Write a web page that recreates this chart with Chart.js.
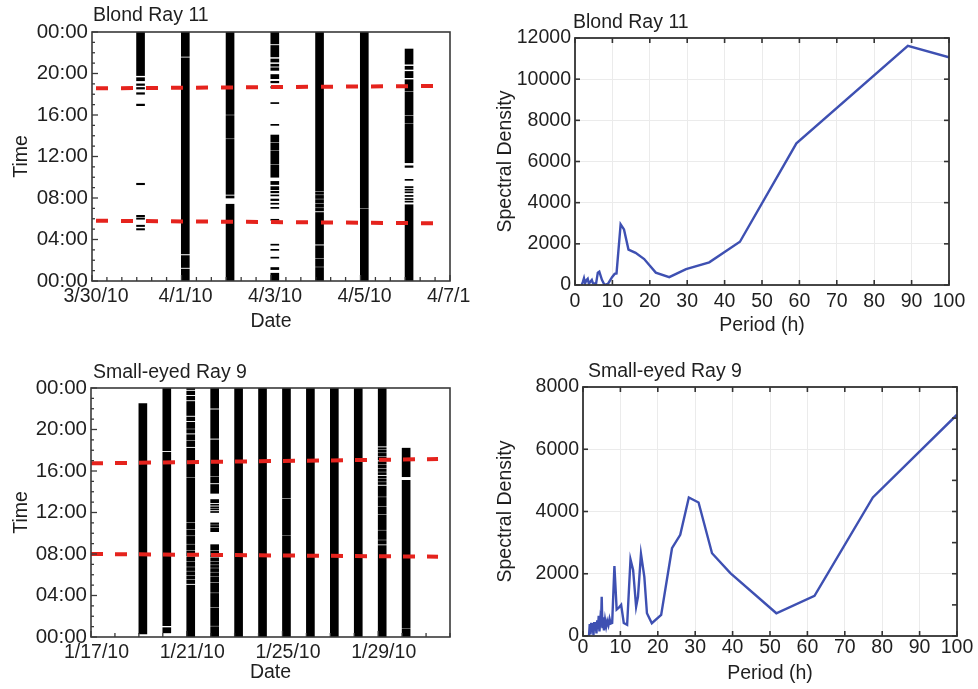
<!DOCTYPE html>
<html><head><meta charset="utf-8">
<script src="https://cdn.jsdelivr.net/npm/chart.js@4"></script>
<style>
html,body{margin:0;padding:0;background:#fff;width:978px;height:689px;overflow:hidden;}
canvas{position:absolute;display:block;}
</style></head><body>
<canvas id="c1" width="470" height="345" style="left:0;top:0"></canvas>
<canvas id="c2" width="488" height="345" style="left:490px;top:0"></canvas>
<canvas id="c3" width="470" height="339" style="left:0;top:350px"></canvas>
<canvas id="c4" width="488" height="339" style="left:490px;top:350px"></canvas>
<script>
// ---------------- DATA ----------------
const blondTitle = 'Blond Ray 11';
const smallTitle = 'Small-eyed Ray 9';
const timeTickValues = [0, 4, 8, 12, 16, 20, 24];
const timeTickLabels = ['00:00', '04:00', '08:00', '12:00', '16:00', '20:00', '00:00'];
const blondDateTicks = [0, 2, 4, 6, 8];
const blondDateLabels = ['3/30/10', '4/1/10', '4/3/10', '4/5/10', '4/7/10'];
const smallDateTicks = [0, 4, 8, 12];
const smallDateLabels = ['1/17/10', '1/21/10', '1/25/10', '1/29/10'];

// Blond Ray 11 actogram: active intervals [from h, to h] per day (day index from 3/30/10)
const blondDayIndex = [1, 2, 3, 4, 5, 6, 7];
const blond0331 = [[19.8,24],[19.3,19.6],[18.85,19.0],[18.5,18.65],[18.0,18.15],[16.9,17.05],[9.28,9.42],[6.2,6.33],[5.95,6.08],[5.25,5.38],[4.92,5.05]];
const blond0401 = [[0,1.15],[1.3,2.45],[2.6,21.5],[21.65,24]];
const blond0402 = [[0,7.4],[8.0,8.2],[8.35,13.65],[13.75,15.95],[16.05,24]];
const blond0403 = [[0,0.75],[1.1,1.3],[2.2,2.3],[2.95,3.05],[3.45,3.55],[5.85,5.95],[7.0,7.1],[7.4,7.5],[7.75,7.9],[8.2,8.3],[8.5,8.65],[8.8,9.1],[9.3,9.6],[10.0,11.2],[11.3,12.5],[12.6,13.3],[13.4,14.07],[15.0,15.1],[17.1,17.2],[18.6,18.75],[19.1,19.25],[19.5,19.9],[20.3,20.55],[20.7,20.9],[21.1,21.4],[21.6,22.7],[22.85,24]];
const blond0404 = [[0,1.3],[1.4,2.1],[2.2,3.4],[3.55,6.6],[6.75,7.0],[7.1,7.4],[7.5,7.85],[7.95,8.25],[8.35,8.6],[8.7,24]];
const blond0405 = [[0,6.95],[7.05,24]];
const blond0406 = [[0,7.35],[7.6,7.7],[7.85,7.95],[8.15,8.25],[8.5,8.6],[8.75,8.85],[9.0,9.1],[9.7,9.8],[10.95,11.1],[11.4,15.1],[15.2,15.9],[16.0,18.2],[18.3,19.4],[19.6,20.2],[20.4,20.7],[20.9,22.36]];
const blondActivity = [blond0331, blond0401, blond0402, blond0403, blond0404, blond0405, blond0406];
const blondDuskLine = [[0.09, 18.57], [7.73, 18.8]];
const blondDawnLine = [[0.09, 5.81], [7.73, 5.56]];

// Small-eyed Ray 9 actogram (day index from 1/17/10)
const smallDayIndex = [2, 3, 4, 5, 6, 7, 8, 9, 10, 11, 12, 13];
const small0119 = [[0.3,22.5]];
const small0120 = [[0.4,0.9],[1.1,17.8],[17.95,24]];
const small0121 = [[0,5.0],[5.15,5.5],[5.6,5.9],[6.0,6.3],[6.4,6.7],[6.8,7.2],[7.3,7.7],[7.8,8.3],[8.4,8.9],[9.0,9.7],[9.8,10.3],[10.4,11.0],[11.1,15.3],[15.4,18.2],[18.35,18.9],[19.0,19.5],[19.65,20.0],[20.1,20.7],[20.85,21.2],[21.35,22.7],[22.85,23.2],[23.35,23.7],[23.85,24]];
const small0122 = [[0,1.0],[1.1,2.8],[2.9,4.2],[4.3,5.2],[5.3,5.75],[5.85,6.2],[6.3,6.6],[6.7,6.9],[7.0,7.25],[7.35,7.6],[7.7,7.95],[8.05,8.3],[8.4,8.9],[10.15,10.5],[10.6,10.75],[10.85,11.0],[12.0,12.1],[12.25,12.35],[12.45,12.55],[12.7,12.8],[12.95,13.25],[13.85,14.7],[14.85,15.4],[15.5,19.0],[19.15,21.9],[22.05,24]];
const small0123 = [[0,24]];
const small0124 = [[0,24]];
const small0125 = [[0,9.7],[9.8,13.3],[13.4,24]];
const small0126 = [[0,24]];
const small0127 = [[0,24]];
const small0128 = [[0,24]];
const small0129 = [[0,8.8],[8.95,9.3],[9.4,10.25],[10.35,11.75],[11.85,12.55],[12.65,13.45],[13.55,14.55],[14.7,14.9],[15.0,15.2],[15.3,15.5],[15.65,15.85],[15.95,16.2],[16.3,16.55],[16.65,16.9],[17.05,17.35],[17.45,17.7],[17.8,18.0],[18.1,18.25],[18.4,24]];
const small0130 = [[0,0.8],[0.9,15.1],[15.45,18.2]];
const smallActivity = [small0119, small0120, small0121, small0122, small0123, small0124, small0125, small0126, small0127, small0128, small0129, small0130];
const smallDuskLine = [[0, 16.74], [14.5, 17.15]];
const smallDawnLine = [[0, 8.0], [14.5, 7.74]];

// Spectral density vs period (h)
const blondPeriod  = [1.8, 2.1, 2.4, 2.7, 3.0, 3.4, 3.7, 4.1, 4.5, 4.8, 5.2, 5.6, 6.1, 6.5, 7.2, 7.9, 8.8, 9.9, 10.6, 11.1, 12.2, 13.1, 14.3, 16.2, 18.5, 19.8, 21.6, 25.2, 29.7, 35.9, 44.1, 59.2, 89.0, 100];
const blondDensity = [0, 150, 330, 80, 220, 300, 60, 160, 250, 90, 80, 30, 600, 650, 250, 0, 50, 380, 540, 560, 2950, 2700, 1720, 1560, 1260, 980, 600, 380, 770, 1100, 2100, 6880, 11620, 11060];
const smallPeriod  = [1.6, 1.8, 2.0, 2.2, 2.4, 2.6, 2.8, 3.0, 3.2, 3.4, 3.6, 3.8, 4.0, 4.2, 4.4, 4.6, 4.8, 5.0, 5.2, 5.4, 5.6, 5.9, 6.2, 6.5, 6.8, 7.1, 7.4, 7.8, 8.4, 9.0, 9.5, 10.2, 10.9, 11.8, 12.7, 13.4, 14.2, 14.7, 15.5, 16.4, 17.1, 18.4, 20.9, 23.8, 26.0, 28.3, 30.9, 34.5, 39.4, 51.7, 61.9, 77.5, 100];
const smallDensity = [0, 380, 50, 420, 120, 350, 30, 450, 180, 400, 80, 500, 220, 650, 150, 480, 300, 1260, 250, 600, 180, 520, 300, 480, 350, 550, 400, 420, 2250, 850, 900, 1000, 420, 360, 2460, 2120, 940, 1260, 2640, 1900, 730, 410, 680, 2820, 3250, 4450, 4290, 2660, 2020, 730, 1290, 4450, 7110];

// ---------------- HELPERS ----------------
const FONT = "'Liberation Sans', Arial, Helvetica, sans-serif";
const TXT = '#1f1f1f';
Chart.defaults.font.family = FONT;
Chart.defaults.color = TXT;

function range(a, b, s) { const r = []; for (let v = a; v <= b + 1e-9; v += s) r.push(+v.toFixed(4)); return r; }

const framePlugin = {
  id: 'frame',
  afterDatasetsDraw(chart, args, o) {
    const { ctx, chartArea: a } = chart;
    const xs = chart.scales.x, ys = chart.scales.y;
    ctx.save();
    ctx.lineWidth = o.tickWidth;
    ctx.strokeStyle = o.color;
    for (const t of o.ticks) {
      for (const v of t.values) {
        const len = (t.major && t.major.includes(v)) ? t.majorLen : t.len;
        ctx.beginPath();
        if (t.side === 'bottom' || t.side === 'top') {
          const p = xs.getPixelForValue(v);
          const y0 = t.side === 'bottom' ? a.bottom : a.top;
          const d = t.side === 'bottom' ? -1 : 1;
          ctx.moveTo(p, y0); ctx.lineTo(p, y0 + d * len);
        } else {
          const p = ys.getPixelForValue(v);
          const x0 = t.side === 'left' ? a.left : a.right;
          const d = t.side === 'left' ? 1 : -1;
          ctx.moveTo(x0, p); ctx.lineTo(x0 + d * len, p);
        }
        ctx.stroke();
      }
    }
    ctx.lineWidth = o.width;
    ctx.strokeRect(a.left, a.top, a.right - a.left, a.bottom - a.top);
    ctx.fillStyle = TXT;
    ctx.font = o.titleSize + 'px ' + FONT;
    ctx.textBaseline = 'middle';
    ctx.textAlign = 'left';
    ctx.fillText(o.title, o.titleX, o.titleY);
    ctx.restore();
  }
};

function actoBars(days, activity, offset) {
  const pts = [];
  days.forEach((d, i) => activity[i].forEach(([lo, hi]) => pts.push({ x: d + offset, y: [lo, hi] })));
  return pts;
}
function linePts(arr) { return arr.map(([x, y]) => ({ x, y })); }

function actogram(id, o) {
  const red = '#e5231d';
  return new Chart(document.getElementById(id), {
    type: 'bar',
    data: { datasets: [
      { type: 'line', data: linePts(o.dusk), borderColor: red, borderWidth: 4, borderDash: o.dash, pointRadius: 0, fill: false, order: 0 },
      { type: 'line', data: linePts(o.dawn), borderColor: red, borderWidth: 4, borderDash: o.dash, pointRadius: 0, fill: false, order: 0 },
      { type: 'bar', data: actoBars(o.days, o.activity, o.barOffset), backgroundColor: '#000', borderWidth: 0, barThickness: 8, grouped: false, order: 1 }
    ]},
    options: {
      responsive: false, animation: false, events: [],
      layout: { padding: { top: o.padTop, right: o.padRight, left: 0, bottom: 0 } },
      plugins: { legend: { display: false }, tooltip: { enabled: false },
        frame: { color: '#3a3a3a', width: 1.6, tickWidth: 1.3, title: o.title, titleX: o.titleX, titleY: o.titleY, titleSize: 19.5,
          ticks: [
            { side: 'left', values: range(0, 24, 1), major: timeTickValues, len: 3, majorLen: 6 },
            { side: 'bottom', values: range(0, o.xMax, o.xMinor), major: o.xTicks, len: 4, majorLen: 6 }
          ] } },
      scales: {
        x: { type: 'linear', min: 0, max: o.xMax, offset: false,
          grid: { display: false, drawTicks: false }, border: { display: false },
          afterBuildTicks: s => { s.ticks = o.xTicks.map(v => ({ value: v })); },
          afterFit: s => { s.height = o.xHeight; s.paddingLeft = 0; s.paddingRight = 0; },
          ticks: { autoSkip: false, maxRotation: 0, minRotation: 0, padding: o.xTickPad, labelOffset: o.labelOffset, font: { size: 19.5 }, color: TXT,
            callback: v => o.xLabels[o.xTicks.indexOf(v)] },
          title: { display: true, text: 'Date', font: { size: 19.5 }, color: TXT, padding: { top: 0, bottom: o.xTitlePad } } },
        y: { type: 'linear', min: 0, max: 24,
          grid: { display: false, drawTicks: false }, border: { display: false },
          afterBuildTicks: s => { s.ticks = timeTickValues.map(v => ({ value: v })); },
          afterFit: s => { s.width = o.yWidth; },
          ticks: { padding: 4, font: { size: 20.5 }, color: TXT, callback: v => timeTickLabels[timeTickValues.indexOf(v)] },
          title: { display: true, text: 'Time', font: { size: 19.5 }, color: TXT, padding: { top: o.yTitlePad, bottom: 0 } } }
      }
    },
    plugins: [framePlugin]
  });
}

function spectral(id, o) {
  return new Chart(document.getElementById(id), {
    type: 'line',
    data: { datasets: [{ data: o.period.map((p, i) => ({ x: p, y: o.density[i] })), borderColor: '#3e50b2', borderWidth: 2.4, pointRadius: 0, tension: 0, fill: false }] },
    options: {
      responsive: false, animation: false, events: [],
      layout: { padding: { top: o.padTop, right: o.padRight, left: 0, bottom: 0 } },
      plugins: { legend: { display: false }, tooltip: { enabled: false },
        frame: { color: '#333', width: 1.8, tickWidth: 1.6, title: o.title, titleX: o.titleX, titleY: o.titleY, titleSize: 19.5,
          ticks: [
            { side: 'bottom', values: range(0, 100, 10), len: 5 },
            { side: 'top', values: range(0, 100, 10), len: 5 },
            { side: 'left', values: range(0, o.yMax, o.yStep), len: 5 },
            { side: 'right', values: range(0, o.yMax, o.rightStep), len: 5 }
          ] } },
      scales: {
        x: { type: 'linear', min: 0, max: 100,
          grid: { color: '#ebebeb', lineWidth: 1, drawTicks: false }, border: { display: false },
          afterFit: s => { s.height = o.xHeight; s.paddingLeft = 0; s.paddingRight = 0; },
          ticks: { stepSize: 10, autoSkip: false, maxRotation: 0, padding: o.xTickPad, font: { size: 19.5 }, color: TXT },
          title: { display: true, text: 'Period (h)', font: { size: 19.5 }, color: TXT, padding: { top: 0, bottom: o.xTitlePad } } },
        y: { type: 'linear', min: 0, max: o.yMax,
          grid: { color: '#ebebeb', lineWidth: 1, drawTicks: false }, border: { display: false },
          afterFit: s => { s.width = o.yWidth; },
          ticks: { stepSize: o.yStep, padding: 4, font: { size: 19.5 }, color: TXT, callback: v => String(v) },
          title: { display: true, text: 'Spectral Density', font: { size: 19.5 }, color: TXT, padding: { top: o.yTitlePad, bottom: 0 } } }
      }
    },
    plugins: [framePlugin]
  });
}

// ---------------- CHARTS ----------------
actogram('c1', { title: blondTitle, titleX: 93, titleY: 15.5,
  days: blondDayIndex, activity: blondActivity, barOffset: 0.085,
  dusk: blondDuskLine, dawn: blondDawnLine, dash: [12, 13],
  xMax: 8, xTicks: blondDateTicks, xLabels: blondDateLabels, xMinor: 1/3, labelOffset: 4,
  padTop: 32, padRight: 20, yWidth: 92, xHeight: 64, xTickPad: 4, xTitlePad: 12, yTitlePad: 9.5 });

spectral('c2', { title: blondTitle, titleX: 83, titleY: 22.5,
  period: blondPeriod, density: blondDensity, yMax: 12000, yStep: 2000, rightStep: 2000,
  padTop: 38, padRight: 29, yWidth: 85, xHeight: 60, xTickPad: 5, xTitlePad: 8, yTitlePad: 4 });

actogram('c3', { title: smallTitle, titleX: 93, titleY: 23,
  days: smallDayIndex, activity: smallActivity, barOffset: 0.167,
  dusk: smallDuskLine, dawn: smallDawnLine, dash: [12, 12],
  xMax: 15, xTicks: smallDateTicks, xLabels: smallDateLabels, xMinor: 1, labelOffset: 5.5,
  padTop: 38, padRight: 20, yWidth: 91, xHeight: 52, xTickPad: 4, xTitlePad: 5, yTitlePad: 9.5 });

spectral('c4', { title: smallTitle, titleX: 98, titleY: 21.7,
  period: smallPeriod, density: smallDensity, yMax: 8000, yStep: 2000, rightStep: 1000,
  padTop: 37, padRight: 21, yWidth: 93, xHeight: 53, xTickPad: 0, xTitlePad: 4, yTitlePad: 4 });
</script>
</body></html>
